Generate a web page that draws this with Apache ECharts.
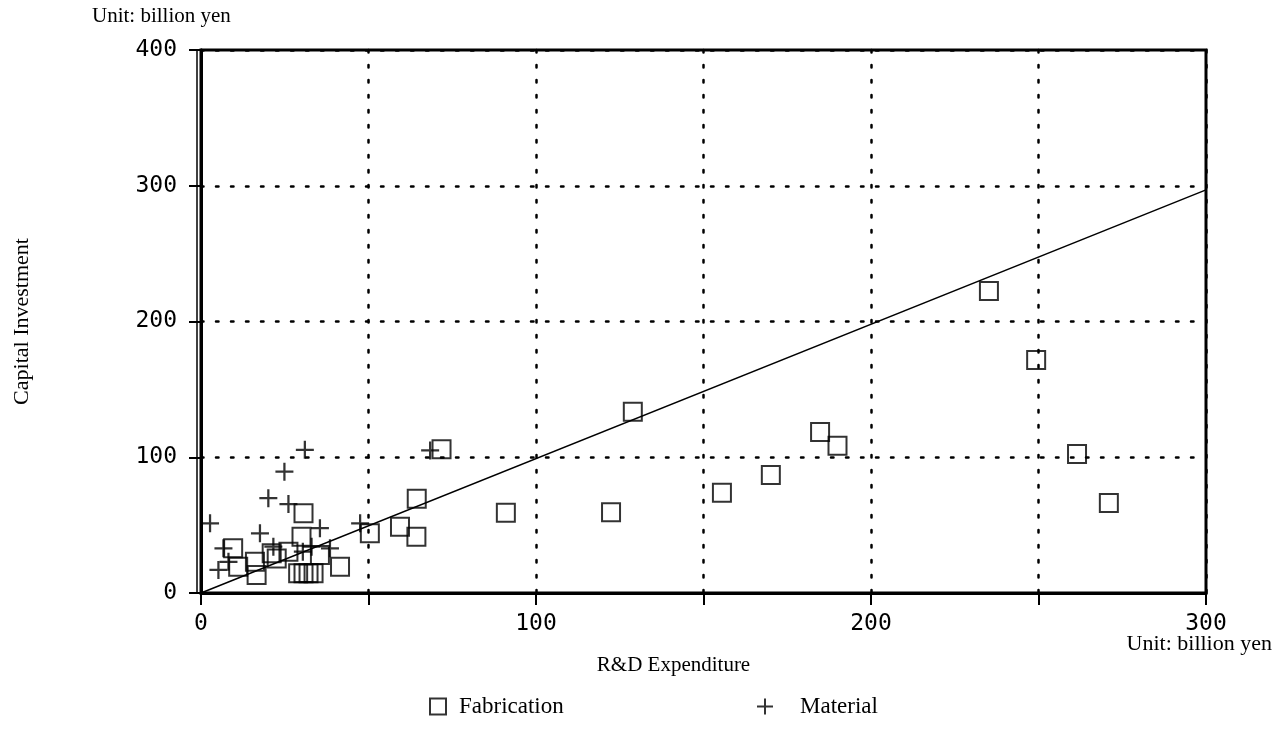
<!DOCTYPE html>
<html>
<head>
<meta charset="utf-8">
<script src="https://cdn.jsdelivr.net/npm/echarts@6/dist/echarts.min.js"></script>
<style>
  html, body { margin: 0; padding: 0; background: #fff; }
  #chart { width: 1282px; height: 752px; }
</style>
</head>
<body>
<div id="chart"></div>
<script>
// R&D expenditure (x) vs capital investment (y), billion yen
const fabrication = [
  [235.2, 222.5], [249.3, 171.6], [261.5, 102.4], [271.0, 66.3],
  [128.9, 133.6], [184.8, 118.6], [190.0, 108.5], [170.1, 86.9],
  [155.5, 73.9], [122.4, 59.4], [91.0, 59.2], [71.8, 105.9],
  [64.4, 69.5], [59.4, 48.8], [64.3, 41.5], [50.4, 44.0],
  [41.5, 19.4], [30.6, 58.7], [30.0, 41.5], [35.5, 28.0],
  [26.1, 30.4], [22.6, 25.5], [21.1, 29.2], [16.1, 23.0],
  [16.6, 13.3], [11.1, 19.4], [9.6, 32.9],
  [29.0, 14.5], [30.6, 14.5], [32.1, 14.5], [33.6, 14.5]
];
const material = [
  [31.0, 105.5], [24.9, 89.4], [20.1, 69.8], [26.1, 65.5],
  [2.7, 51.3], [17.6, 44.0], [35.5, 47.7], [47.5, 51.3],
  [68.4, 105.0], [6.7, 32.9], [8.2, 23.0], [5.2, 17.0],
  [21.6, 34.1], [33.0, 34.1], [38.5, 32.9], [30.4, 30.4]
];
const fitLine = [[0, 0], [300, 297]];
const xTicks = { min: 0, max: 300, step: 50 };
const yTicks = { min: 0, max: 400, step: 100 };

const plusPath = 'path://M7,0h2v7h7v2h-7v7h-2v-7h-7v-2h7z';
const tickFont = { fontFamily: 'DejaVu Sans Mono', fontSize: 23, color: '#000' };
const serif = 'Liberation Serif';
const dotted = { color: '#000', width: 2.5, type: [2.5, 12.5], cap: 'round' };
const legendText = (pad) => ({ fontFamily: serif, fontSize: 23, color: '#000', padding: [0, 0, 0, pad] });

const chart = echarts.init(document.getElementById('chart'));
chart.setOption({
  backgroundColor: '#fff',
  animation: false,
  grid: {
    left: 201, right: 76, top: 50, bottom: 159,
    show: true, borderColor: '#000', borderWidth: 3
  },
  legend: [
    {
      left: 424, bottom: 29, itemWidth: 16, itemHeight: 16,
      textStyle: legendText(8),
      data: [{ name: 'Fabrication', icon: 'rect', itemStyle: { color: 'rgba(0,0,0,0)', borderColor: '#000', borderWidth: 2 } }]
    },
    {
      left: 752, bottom: 29, itemWidth: 16, itemHeight: 16,
      textStyle: legendText(22),
      data: [{ name: 'Material', icon: plusPath, itemStyle: { color: '#000' } }]
    }
  ],
  graphic: [
    { type: 'text', left: 92, top: 6, style: { text: 'Unit: billion yen', font: '21px "Liberation Serif"', fill: '#000' } },
    { type: 'text', right: 10, top: 633, style: { text: 'Unit: billion yen', font: '22px "Liberation Serif"', fill: '#000' } }
  ],
  xAxis: {
    type: 'value',
    min: xTicks.min, max: xTicks.max, interval: xTicks.step,
    name: 'R&D Expenditure',
    nameLocation: 'middle',
    nameGap: 62,
    nameTextStyle: { fontFamily: serif, fontSize: 21, color: '#000', padding: [0, 60, 0, 0] },
    axisLine: { show: true, lineStyle: { color: '#000', width: 3 } },
    axisTick: { show: true, length: 12, lineStyle: { color: '#000', width: 2 } },
    axisLabel: {
      ...tickFont, margin: 20,
      formatter: v => (v % 100 === 0 ? String(v) : '')
    },
    splitLine: { show: true, lineStyle: dotted }
  },
  yAxis: [
    {
      type: 'value',
      min: yTicks.min, max: yTicks.max, interval: yTicks.step,
      name: 'Capital Investment',
      nameLocation: 'middle',
      nameRotate: 90,
      nameGap: 168,
      nameTextStyle: { fontFamily: serif, fontSize: 22, color: '#000' },
      axisLine: { show: true, lineStyle: { color: '#000', width: 3 } },
      axisTick: { show: true, length: 12, lineStyle: { color: '#000', width: 2 } },
      axisLabel: { ...tickFont, margin: 24 },
      splitLine: { show: true, lineStyle: dotted }
    },
    {
      type: 'value',
      min: yTicks.min, max: yTicks.max,
      position: 'left',
      offset: 4,
      axisLine: { show: true, lineStyle: { color: '#000', width: 1.5 } },
      axisTick: { show: false },
      axisLabel: { show: false },
      splitLine: { show: false }
    }
  ],
  series: [
    {
      name: 'Fit',
      type: 'line',
      data: fitLine,
      showSymbol: false,
      lineStyle: { color: '#000', width: 1.5 },
      z: 1
    },
    {
      name: 'Fabrication',
      type: 'scatter',
      data: fabrication,
      symbol: 'rect',
      symbolSize: 18,
      itemStyle: { color: 'rgba(0,0,0,0)', borderColor: '#000', borderWidth: 2 },
      z: 3
    },
    {
      name: 'Material',
      type: 'scatter',
      data: material,
      symbol: plusPath,
      symbolSize: 18,
      itemStyle: { color: '#000' },
      z: 4
    }
  ]
});
</script>
</body>
</html>
